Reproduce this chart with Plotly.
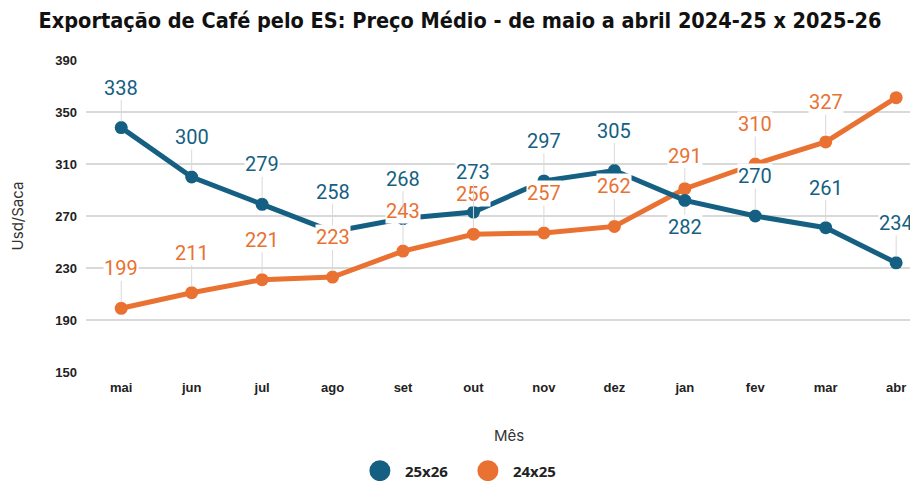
import plotly.graph_objects as go

meses = ["mai", "jun", "jul", "ago", "set", "out", "nov", "dez", "jan", "fev", "mar", "abr"]
serie_2526 = [338, 300, 279, 258, 268, 273, 297, 305, 282, 270, 261, 234]
serie_2425 = [199, 211, 221, 223, 243, 256, 257, 262, 291, 310, 327, 361]
y_ticks = [150, 190, 230, 270, 310, 350, 390]

AZUL = "#156082"
LARANJA = "#E97132"

fig = go.Figure()

for nome, vals, cor in [("24x25", serie_2425, LARANJA), ("25x26", serie_2526, AZUL)]:
    fig.add_trace(go.Scatter(
        x=meses, y=vals, mode="lines+markers", name=nome,
        line=dict(color=cor, width=5), marker=dict(color=cor, size=13),
        showlegend=False, cliponaxis=False,
    ))

# legend-only traces
for nome, cor in [("25x26", AZUL), ("24x25", LARANJA)]:
    fig.add_trace(go.Scatter(
        x=[None], y=[None], mode="markers", name=nome,
        marker=dict(color=cor, size=22, line=dict(color=cor, width=5)), showlegend=True,
    ))

# data labels with leader lines
def add_labels(vals, cor, overrides, skip=()):
    for i, (m, v) in enumerate(zip(meses, vals)):
        if i in skip:
            continue
        ay = overrides.get(i, -40)
        fig.add_annotation(
            x=m, y=v, text=str(v), showarrow=True, arrowhead=0,
            arrowwidth=1, arrowcolor="#d9d9d9", ax=0, ay=ay, standoff=6,
            font=dict(family="Roboto", size=20, color=cor),
            bgcolor="white", borderpad=0,
        )

add_labels(serie_2425, LARANJA, {8: -33}, skip=(11,))
add_labels(serie_2526, AZUL, {8: 27})

fig.add_annotation(
    xref="paper", yref="paper", x=0.508, y=-0.205, text="Mês", showarrow=False,
    font=dict(family="Inter", size=15, color="#333333"), yanchor="middle",
)

fig.update_layout(
    width=910, height=473,
    margin=dict(l=78, r=0, t=52, b=109, autoexpand=False),
    paper_bgcolor="white", plot_bgcolor="white",
    title=dict(
        text="<b>Exportação de Café pelo ES: Preço Médio - de maio a abril 2024-25 x 2025-26</b>",
        x=0.4967, xanchor="center", xref="container", y=0.974, yref="container", yanchor="middle",
        font=dict(family="DejaVu Sans Condensed", size=21.5, color="#111111"),
    ),
    xaxis=dict(
        range=[-0.5, 11.31], showgrid=False, zeroline=False, showline=False,
        tickfont=dict(family="Liberation Sans", size=13, color="#222222", weight="bold"),
        ticks="", ticklabelstandoff=6, automargin=False,
    ),
    yaxis=dict(
        range=[150, 390], tickvals=y_ticks, showgrid=True, gridcolor="#d9d9d9",
        gridwidth=1.5, zeroline=False, showline=False, automargin=False,
        tickfont=dict(family="Liberation Sans", size=13, color="#222222", weight="bold"),
        ticks="", ticklabelstandoff=8,
        title=dict(text="Usd/Saca", font=dict(family="Inter", size=15, color="#333333"), standoff=28),
    ),
    legend=dict(
        orientation="h", x=0.453, xanchor="center", y=-0.317, yanchor="middle",
        font=dict(family="Noto Sans", size=15, color="#222222", weight="bold"),
        itemsizing="trace", traceorder="normal", itemwidth=40, entrywidth=53,
    ),
)

fig.write_html("out.html")
